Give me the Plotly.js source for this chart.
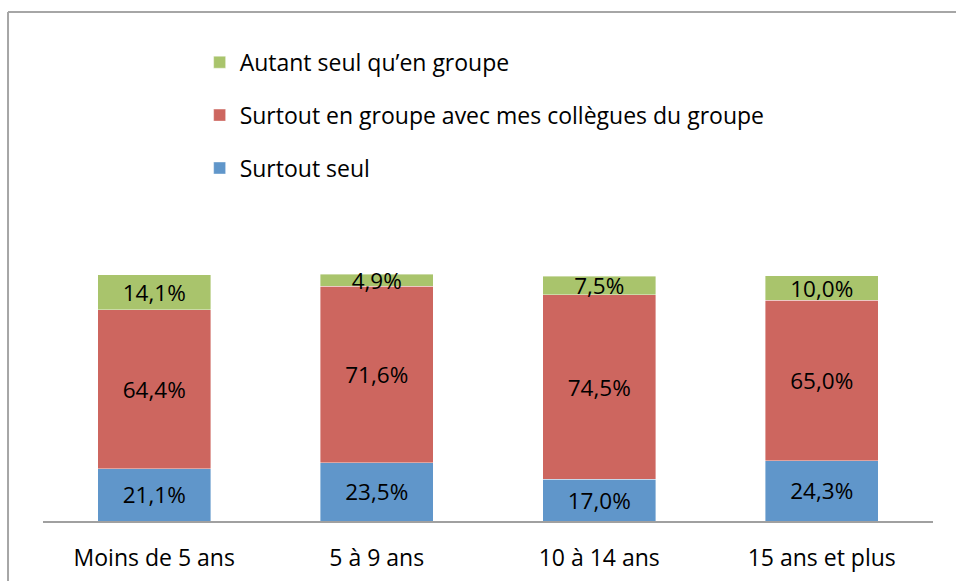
<!DOCTYPE html>
<html>
<head>
<meta charset="utf-8">
<script src="https://cdn.plot.ly/plotly-3.0.1.min.js"></script>
<style>html,body{margin:0;padding:0;background:#fff;}#chart{width:956px;height:581px;}</style>
</head>
<body>
<div id="chart"></div>
<script>
const categories = ["Moins de 5 ans", "5 à 9 ans", "10 à 14 ans", "15 ans et plus"];
const seriesNames = ["Surtout seul", "Surtout en groupe avec mes collègues du groupe", "Autant seul qu’en groupe"];
const surtoutSeul = [21.1, 23.5, 17.0, 24.3];
const surtoutGroupe = [64.4, 71.6, 74.5, 65.0];
const autant = [14.1, 4.9, 7.5, 10.0];
const colors = ["#6096CA", "#CD665F", "#A9C46C"];
const legendRanks = [3, 2, 1];

const fmt = v => v.toFixed(1).replace('.', ',') + '%';
const FONT = "'Open Sans', sans-serif";

const series = [surtoutSeul, surtoutGroupe, autant];
const traces = series.map((vals, i) => ({
  type: 'bar',
  name: seriesNames[i],
  x: categories,
  y: vals,
  text: vals.map(fmt),
  textposition: 'inside',
  insidetextanchor: 'middle',
  textangle: 0,
  constraintext: 'none',
  textfont: {family: FONT, size: 22.5, color: '#000'},
  marker: {color: colors[i], line: {width: 0.8, color: 'rgba(255,255,255,0.5)'}},
  width: 0.51,
  legendgroup: 'g' + i,
  legendrank: legendRanks[i],
  hoverinfo: 'none'
}));

const layout = {
  width: 956, height: 581,
  margin: {l: 43, r: 23, t: 12, b: 60},
  barmode: 'stack',
  paper_bgcolor: '#fff', plot_bgcolor: '#fff',
  font: {family: FONT, size: 23, color: '#000'},
  showlegend: true,
  legend: {
    x: 0.176, xanchor: 'left', y: 0.9435, yanchor: 'top',
    traceorder: 'grouped', tracegroupgap: 20,
    font: {family: FONT, size: 23, color: '#000'},
    bgcolor: 'rgba(0,0,0,0)'
  },
  xaxis: {
    type: 'category',
    showline: true, linecolor: '#a0a0a0', linewidth: 1.5,
    ticks: '', showgrid: false, zeroline: false,
    tickfont: {family: FONT, size: 23, color: '#000'},
    ticklabelstandoff: 16
  },
  yaxis: {
    range: [0, 206.07], visible: false, showgrid: false, zeroline: false, fixedrange: true
  },
  shapes: [
    {type: 'line', xref: 'paper', yref: 'paper', x0: -0.0393, x1: 1.05, y0: 1, y1: 1, line: {color: '#a6a6a6', width: 2}},
    {type: 'line', xref: 'paper', yref: 'paper', x0: -0.0393, x1: -0.0393, y0: 1, y1: -0.15, line: {color: '#a6a6a6', width: 2}}
  ]
};

Plotly.newPlot('chart', traces, layout, {staticPlot: true, displayModeBar: false});
</script>
</body>
</html>
